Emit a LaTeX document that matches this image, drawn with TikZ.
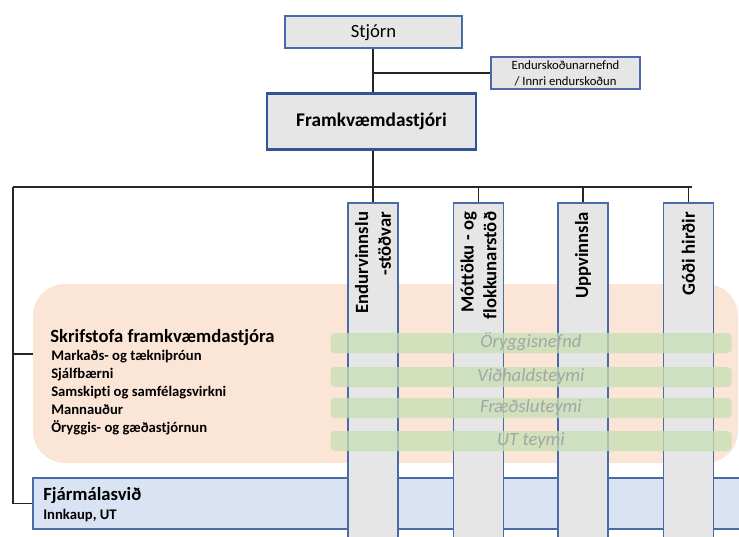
\documentclass[tikz,border=0pt]{standalone}
\usepackage{fontspec}
\setmainfont{Carlito}[Ligatures=NoCommon]
\usetikzlibrary{positioning}

\definecolor{boxgray}{HTML}{E7E6E6}
\definecolor{edgeblue}{HTML}{4A6AA8}
\definecolor{darkblue}{HTML}{2F5597}
\definecolor{peach}{HTML}{FBE5D6}
\definecolor{fjblue}{HTML}{DAE3F3}
\definecolor{teamgreen}{HTML}{C5E0B4}
\definecolor{teamtext}{HTML}{A5A5A5}
\newcommand{\pxu}{0.75pt}

\begin{document}
\begin{tikzpicture}[x=0.75pt, y=-0.75pt,
  font=\fontsize{14}{17}\selectfont,
  box/.style={draw=edgeblue, fill=boxgray, line width=0.9pt, inner sep=0pt},
  colbox/.style={box, minimum width=50*\pxu, minimum height=337*\pxu},
  collabel/.style={font=\fontsize{14}{17}\selectfont\bfseries, align=right, inner sep=0pt},
  team/.style={fill=teamgreen, fill opacity=0.75, text opacity=1, text=teamtext,
    rounded corners=3pt, minimum width=401*\pxu, minimum height=20*\pxu, inner sep=0pt,
    text height=10pt, text depth=3pt, font=\fontsize{14}{17}\selectfont\itshape},
  conn/.style={draw=black!85, line width=0.9pt},
  small/.style={font=\fontsize{11}{13}\selectfont\bfseries}]

\useasboundingbox (0,0) rectangle (739,536);
\clip (0,0) rectangle (739,536);

% office and finance areas
\node[fill=peach, rounded corners=24pt, minimum width=705*\pxu, minimum height=179*\pxu] (skrif) at (385.5,373.5) {};
\node[draw=edgeblue, fill=fjblue, line width=0.9pt, minimum width=712*\pxu, minimum height=51*\pxu] (fjarm) at (389,503.5) {};

% columns
\foreach \x/\n in {373/1, 478.5/2, 583/3, 688.5/4}
  {\node[colbox] (col\n) at (\x,371.5) {};}

% teams across the columns
\foreach \y/\t in {343/Öryggisnefnd, 377/Viðhaldsteymi, 408/Fræðsluteymi, 441/UT teymi}
  {\node[team] at (531,\y) {\t};}

% column labels
\foreach \n/\t in {1/{Endurvinnslu\\-stöðvar}, 2/{Móttöku - og\\flokkunarstöð}, 3/{Uppvinnsla}, 4/{Góði hirðir}}
  {\node[collabel, yshift=-7pt, rotate=90, anchor=east] (lab\n) at (col\n.north) {\t};}

% top boxes
\node[box, text height=10.5pt, text depth=3pt, minimum width=177*\pxu, minimum height=32*\pxu] (stjorn) at (373.5,32) {Stjórn};
\node[box, font=\fontsize{9.5}{12}\selectfont, align=center, minimum width=149*\pxu, minimum height=32*\pxu] (endur) at (565.5,73) {Endurskoðunarnefnd\\/ Innri endurskoðun};
\node[box, draw=darkblue, line width=2.2pt, font=\fontsize{14.5}{17}\selectfont\bfseries, minimum width=209*\pxu, minimum height=56*\pxu] (framk) at (371.5,121.5) {Framkvæmdastjóri};

% texts
\node[anchor=base west, font=\fontsize{14}{17}\selectfont\bfseries, inner sep=0pt] (skriftitle) at (50,342) {Skrifstofa framkvæmdastjóra};
\foreach \t [count=\i] in {Markaðs- og tækniþróun, Sjálfbærni, Samskipti og samfélagsvirkni, Mannauður, Öryggis- og gæðastjórnun}
  {\node[small, anchor=base west, inner sep=0pt] at (51,342+18*\i) {\t};}
\node[anchor=base west, font=\fontsize{14}{17}\selectfont\bfseries, inner sep=0pt] (fjtitle) at (43,500) {Fjármálasvið};
\node[small, anchor=base west, inner sep=0pt] (fjsub) at (43,519) {Innkaup, UT};

% connectors
\coordinate (busL) at (13,187);
\coordinate (busR) at (692,187);
\coordinate (skrifin) at (33,354);
\draw[conn] (stjorn.south -| col1) -- (framk.north -| col1);
\draw[conn] (stjorn.south -| col1) ++(0,-24*\pxu) coordinate (endk) (endk |- endur.west) -- (endur.west);
\draw[conn] (framk.south -| col1) -- (col1.north);
\draw[conn] (busL) -- (busR);
\foreach \n in {2,3,4}
  {\draw[conn] (col\n.north |- busR) -- (col\n.north);}
\draw[conn] (busL) -- (busL |- fjarm.west) -- (fjarm.west);
\draw[conn] (busL |- skrifin) -- (skrifin);

\end{tikzpicture}
\end{document}
